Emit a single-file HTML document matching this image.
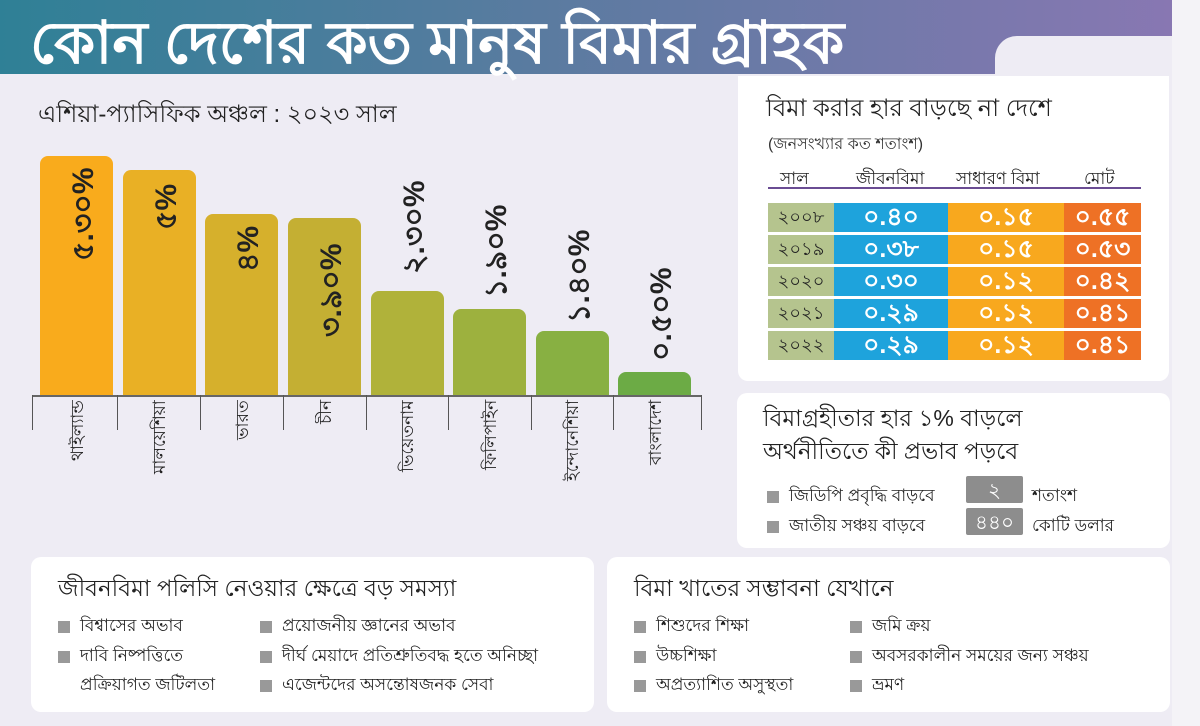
<!DOCTYPE html>
<html><head><meta charset="utf-8"><style>
*{margin:0;padding:0;box-sizing:border-box}
body{width:1200px;height:726px;overflow:hidden;background:#eeecf4;font-family:"Liberation Sans","DejaVu Sans",sans-serif;color:#222;position:relative}
.abs{position:absolute}
.hdr{left:0;top:0;width:1200px;height:74px;background:linear-gradient(90deg,#2f8096 0%,#5a7ba0 45%,#8a77b3 100%)}
.hdr h1{position:absolute;left:30px;top:-2px;font-size:59px;color:#fff;font-weight:bold;white-space:nowrap}
.card{background:#fff;border-radius:10px}
.bar{position:absolute;border-radius:8px 8px 0 0}
.v{position:absolute;writing-mode:vertical-rl;transform:rotate(180deg);text-align:end;white-space:nowrap}
.val{font-size:30px;font-weight:bold;color:#222;width:40px;height:150px}
.cl{top:400px;font-size:17px;height:110px;width:24px}
.tick{position:absolute;top:395px;width:1px;height:35px;background:#555}
table{border-collapse:separate;border-spacing:0 3px}
td{height:29px;line-height:29px;padding:0;text-align:center;color:#fff;font-size:25px;font-weight:bold;overflow:hidden}
td.y{background:#b5c48e;color:#222;font-size:18px;font-weight:normal;width:66px}
td.b{background:#1ea3dc;width:114px}
td.o{background:#f8a81e;width:116px}
td.r{background:#ee7125;width:77px}
.sq{display:inline-block;width:12px;height:12px;background:#999;margin-right:10px;vertical-align:middle}
.li{position:absolute;font-size:17px;white-space:nowrap}
</style></head><body>
<div class="abs hdr"><h1>কোন দেশের কত মানুষ বিমার গ্রাহক</h1></div>
<div class="abs" style="left:995px;top:36px;width:205px;height:40px;background:#eeecf4;border-radius:22px 0 0 0"></div>
<div class="abs" style="left:1172px;top:0;width:28px;height:726px;background:#f4f3f7"></div>
<div class="abs" style="left:38px;top:96px;font-size:24px">এশিয়া-প্যাসিফিক অঞ্চল : ২০২৩ সাল</div>

<div class="bar" style="left:40px;width:73px;top:156px;height:239px;background:#f9ab1c"></div>
<div class="bar" style="left:123px;width:73px;top:170px;height:225px;background:#e9b025"></div>
<div class="bar" style="left:205px;width:73px;top:214px;height:181px;background:#d6b02c"></div>
<div class="bar" style="left:288px;width:73px;top:218px;height:177px;background:#c4af33"></div>
<div class="bar" style="left:371px;width:73px;top:291px;height:104px;background:#b0b23a"></div>
<div class="bar" style="left:453px;width:73px;top:309px;height:86px;background:#9db13e"></div>
<div class="bar" style="left:536px;width:73px;top:331px;height:64px;background:#88b042"></div>
<div class="bar" style="left:618px;width:73px;top:372px;height:23px;background:#6cab45"></div>
<div class="abs" style="left:32px;top:395px;width:670px;height:2px;background:#666"></div>
<div class="tick" style="left:32px"></div><div class="tick" style="left:117px"></div><div class="tick" style="left:200px"></div><div class="tick" style="left:283px"></div><div class="tick" style="left:366px"></div><div class="tick" style="left:448px"></div><div class="tick" style="left:531px"></div><div class="tick" style="left:613px"></div><div class="tick" style="left:701px"></div>

<div class="v val" style="left:58px;top:168px">৫.৩০%</div>
<div class="v val" style="left:141px;top:184px">৫%</div>
<div class="v val" style="left:223px;top:226px">৪%</div>
<div class="v val" style="left:306px;top:244px">৩.৯০%</div>
<div class="v val" style="left:389px;top:180px">২.৩০%</div>
<div class="v val" style="left:471px;top:205px">১.৯০%</div>
<div class="v val" style="left:554px;top:230px">১.৪০%</div>
<div class="v val" style="left:636px;top:268px">০.৫০%</div>

<div class="v cl" style="left:64px">থাইল্যান্ড</div>
<div class="v cl" style="left:146px">মালয়েশিয়া</div>
<div class="v cl" style="left:229px">ভারত</div>
<div class="v cl" style="left:312px">চীন</div>
<div class="v cl" style="left:394px">ভিয়েতনাম</div>
<div class="v cl" style="left:477px">ফিলিপাইন</div>
<div class="v cl" style="left:559px">ইন্দোনেশিয়া</div>
<div class="v cl" style="left:642px">বাংলাদেশ</div>

<div class="abs card" style="left:738px;top:76px;width:431px;height:305px;border-radius:0 0 10px 10px"></div>
<div class="abs" style="left:766px;top:90px;font-size:24px">বিমা করার হার বাড়ছে না দেশে</div>
<div class="abs" style="left:768px;top:131px;font-size:16px;color:#333">(জনসংখ্যার কত শতাংশ)</div>
<div class="abs" style="left:768px;top:166px;width:373px;font-size:17px">
<span class="abs" style="left:12px">সাল</span><span class="abs" style="left:88px">জীবনবিমা</span><span class="abs" style="left:188px">সাধারণ বিমা</span><span class="abs" style="left:316px">মোট</span></div>
<div class="abs" style="left:768px;top:187px;width:373px;height:2px;background:#6a4c93"></div>
<table class="abs" style="left:768px;top:200px">
<tr><td class="y">২০০৮</td><td class="b">০.৪০</td><td class="o">০.১৫</td><td class="r">০.৫৫</td></tr>
<tr><td class="y">২০১৯</td><td class="b">০.৩৮</td><td class="o">০.১৫</td><td class="r">০.৫৩</td></tr>
<tr><td class="y">২০২০</td><td class="b">০.৩০</td><td class="o">০.১২</td><td class="r">০.৪২</td></tr>
<tr><td class="y">২০২১</td><td class="b">০.২৯</td><td class="o">০.১২</td><td class="r">০.৪১</td></tr>
<tr><td class="y">২০২২</td><td class="b">০.২৯</td><td class="o">০.১২</td><td class="r">০.৪১</td></tr>
</table>

<div class="abs card" style="left:737px;top:393px;width:433px;height:155px"></div>
<div class="abs" style="left:763px;top:402px;font-size:23px;line-height:33px">বিমাগ্রহীতার হার ১% বাড়লে<br>অর্থনীতিতে কী প্রভাব পড়বে</div>
<div class="li" style="left:767px;top:483px"><span class="sq"></span>জিডিপি প্রবৃদ্ধি বাড়বে</div>
<div class="li" style="left:767px;top:513px"><span class="sq"></span>জাতীয় সঞ্চয় বাড়বে</div>
<div class="abs" style="left:966px;top:476px;width:57px;height:27px;background:#8d8d8d;color:#fff;font-size:20px;text-align:center;border-radius:2px">২</div>
<div class="abs" style="left:966px;top:508px;width:57px;height:27px;background:#8d8d8d;color:#fff;font-size:20px;text-align:center;border-radius:2px">৪৪০</div>
<div class="li" style="left:1032px;top:483px">শতাংশ</div>
<div class="li" style="left:1032px;top:513px">কোটি ডলার</div>

<div class="abs card" style="left:31px;top:557px;width:563px;height:155px"></div>
<div class="abs" style="left:58px;top:570px;font-size:23px">জীবনবিমা পলিসি নেওয়ার ক্ষেত্রে বড় সমস্যা</div>
<div class="li" style="left:58px;top:613px"><span class="sq"></span>বিশ্বাসের অভাব</div>
<div class="li" style="left:58px;top:643px"><span class="sq"></span>দাবি নিষ্পত্তিতে</div>
<div class="li" style="left:80px;top:672px">প্রক্রিয়াগত জটিলতা</div>
<div class="li" style="left:260px;top:613px"><span class="sq"></span>প্রয়োজনীয় জ্ঞানের অভাব</div>
<div class="li" style="left:260px;top:643px"><span class="sq"></span>দীর্ঘ মেয়াদে প্রতিশ্রুতিবদ্ধ হতে অনিচ্ছা</div>
<div class="li" style="left:260px;top:672px"><span class="sq"></span>এজেন্টদের অসন্তোষজনক সেবা</div>

<div class="abs card" style="left:607px;top:557px;width:563px;height:155px"></div>
<div class="abs" style="left:634px;top:570px;font-size:23px">বিমা খাতের সম্ভাবনা যেখানে</div>
<div class="li" style="left:634px;top:613px"><span class="sq"></span>শিশুদের শিক্ষা</div>
<div class="li" style="left:634px;top:643px"><span class="sq"></span>উচ্চশিক্ষা</div>
<div class="li" style="left:634px;top:672px"><span class="sq"></span>অপ্রত্যাশিত অসুস্থতা</div>
<div class="li" style="left:850px;top:613px"><span class="sq"></span>জমি ক্রয়</div>
<div class="li" style="left:850px;top:643px"><span class="sq"></span>অবসরকালীন সময়ের জন্য সঞ্চয়</div>
<div class="li" style="left:850px;top:672px"><span class="sq"></span>ভ্রমণ</div>
</body></html>
